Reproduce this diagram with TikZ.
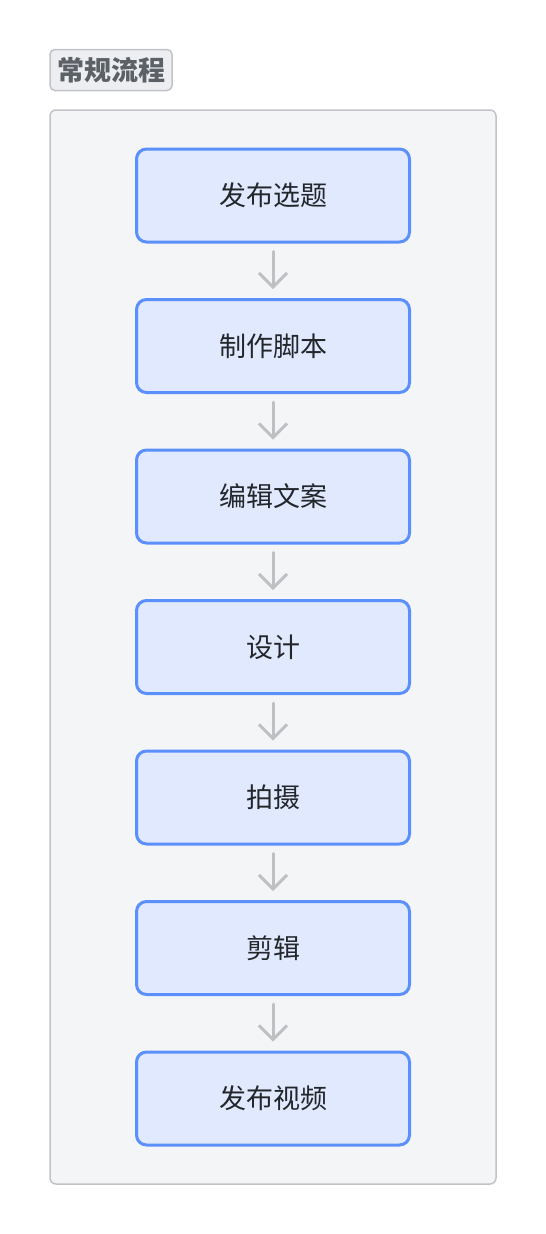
\documentclass[tikz,border=0pt]{standalone}
\usepackage{fontspec}
\newfontfamily\cjk{Noto Sans CJK SC}
\usetikzlibrary{positioning,fit,backgrounds,arrows.meta}

\begin{document}
\begin{tikzpicture}[x=1pt, y=-1pt]
  \definecolor{boxblue}{HTML}{E0E9FD}
  \definecolor{darkblue}{HTML}{5B8FF9}
  \definecolor{arrowgray}{HTML}{BFC0C4}
  \definecolor{panelgray}{HTML}{F4F5F7}
  \definecolor{bordergray}{HTML}{C2C3C7}
  \definecolor{titlegray}{HTML}{ECEEF1}
  \definecolor{titletext}{HTML}{5C6168}
  \definecolor{stepink}{HTML}{23262B}
  \newcommand{\nodesep}[0]{54.5pt}
  \newcommand{\stepname}[1]{\cjk\fontsize{27}{32}\selectfont #1}
  \tikzstyle{block}     = [rectangle, rounded corners=10pt, minimum width=273pt, minimum height=93pt, line width=3pt, draw=darkblue, fill=boxblue, text=stepink]
  \tikzstyle{connector} = [line width=3pt, line cap=round, draw=arrowgray, -{Straight Barb[length=14pt, width=28pt, line width=3pt]}, shorten <=8pt, shorten >=9pt]
  \useasboundingbox (0,0) rectangle (546,1234);
  \node [block] at (273,195.5)          (topic)   {\stepname{发布选题}};
  \node [block, below = \nodesep of topic]   (script)  {\stepname{制作脚本}};
  \node [block, below = \nodesep of script]  (copy)    {\stepname{编辑文案}};
  \node [block, below = \nodesep of copy]    (design)  {\stepname{设计}};
  \node [block, below = \nodesep of design]  (shoot)   {\stepname{拍摄}};
  \node [block, below = \nodesep of shoot]   (edit)    {\stepname{剪辑}};
  \node [block, below = \nodesep of edit]    (publish) {\stepname{发布视频}};
  \draw [connector] (topic)  -- (script);
  \draw [connector] (script) -- (copy);
  \draw [connector] (copy)   -- (design);
  \draw [connector] (design) -- (shoot);
  \draw [connector] (shoot)  -- (edit);
  \draw [connector] (edit)   -- (publish);
  \begin{scope}[on background layer]
    \node[fit=(topic) (publish), rectangle, rounded corners=6pt, inner xsep=85pt, inner ysep=37.5pt, line width=1.5pt, draw=bordergray, fill=panelgray] (routine) {};
  \end{scope}
  \node[above right = 18pt and 0pt of routine.north west, anchor=south west, rectangle, rounded corners=5pt, line width=1.5pt, draw=bordergray, fill=titlegray, text=titletext, minimum height=41pt, inner xsep=7pt, inner ysep=0pt] (routinetitle) {\cjk\bfseries\fontsize{27}{32}\selectfont 常规流程};
\end{tikzpicture}
\end{document}
